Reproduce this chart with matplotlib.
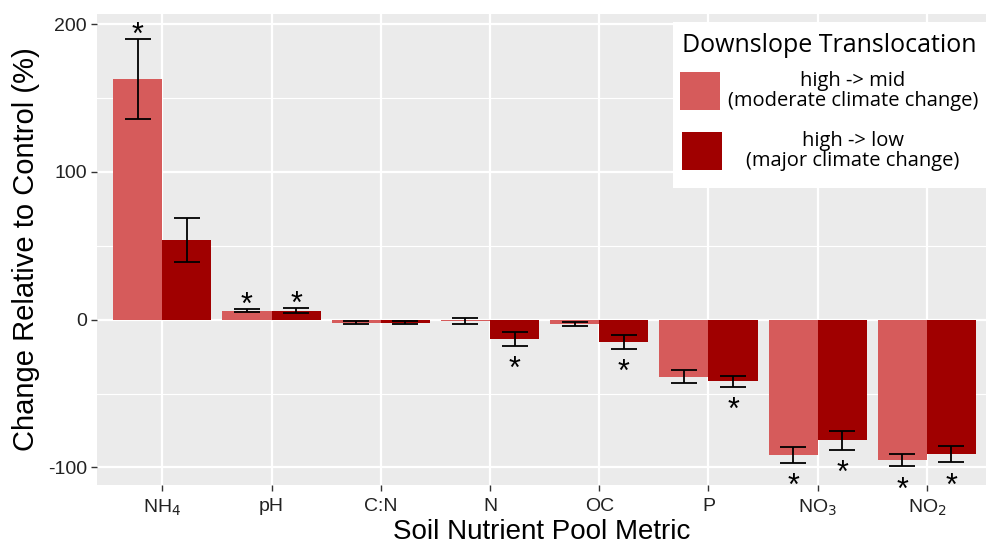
import matplotlib.pyplot as plt
from matplotlib.patches import Rectangle
import numpy as np

# dados
categorias = ['NH$_4$', 'pH', 'C:N', 'N', 'OC', 'P', 'NO$_3$', 'NO$_2$']
media_mid = [163, 6, -2, -1, -3, -38.5, -91.5, -95]
erro_mid = [27, 1, 1, 2, 1.5, 4.3, 5.2, 4]
media_low = [54, 6, -2, -13, -15, -41.5, -81.5, -91]
erro_low = [15, 1.7, 1, 4.5, 4.5, 3.7, 6.5, 5.5]
sig_mid = [True, True, False, False, False, False, True, True]
sig_low = [False, True, False, True, True, True, True, True]

cor_mid = '#D65B5B'
cor_low = '#A00000'

plt.rcParams['font.family'] = ['Liberation Sans', 'DejaVu Sans']
plt.rcParams['axes.unicode_minus'] = False

fig = plt.figure(figsize=(9.87, 5.45), dpi=100)
ax = fig.add_axes([0.098, 0.110, 0.902, 0.864])
ax.set_facecolor('#EBEBEB')

x = np.arange(1, len(categorias) + 1)
w = 0.45
ax.bar(x - w / 2, media_mid, width=w, color=cor_mid, zorder=2)
ax.bar(x + w / 2, media_low, width=w, color=cor_low, zorder=2)
ax.errorbar(x - w / 2, media_mid, yerr=erro_mid, fmt='none', ecolor='black',
            elinewidth=1.3, capsize=9.5, capthick=1.3, zorder=3)
ax.errorbar(x + w / 2, media_low, yerr=erro_low, fmt='none', ecolor='black',
            elinewidth=1.3, capsize=9.5, capthick=1.3, zorder=3)

# asteriscos de significancia
for xs, m, e, s in [(x - w / 2, media_mid, erro_mid, sig_mid),
                    (x + w / 2, media_low, erro_low, sig_low)]:
    for xi, mi, ei, si in zip(xs, m, e, s):
        if not si:
            continue
        if mi > 0:
            ax.annotate('*', (xi, mi + ei), xytext=(0, -3.5), textcoords='offset points',
                        ha='center', va='baseline', fontsize=22, zorder=4)
        else:
            ax.annotate('*', (xi, mi - ei), xytext=(0, -23.5), textcoords='offset points',
                        ha='center', va='baseline', fontsize=22, zorder=4)

ax.set_xlim(0.4, 8.55)
ax.set_ylim(-111.9, 206.8)
ax.set_xticks(x)
ax.set_xticklabels(categorias)
ax.set_yticks([-100, 0, 100, 200])
ax.set_yticks([-50, 50, 150], minor=True)
ax.grid(True, which='major', color='white', linewidth=1.6, zorder=0)
ax.grid(True, which='minor', axis='y', color='white', linewidth=0.8, zorder=0)
ax.set_axisbelow(True)
for sp in ax.spines.values():
    sp.set_visible(False)
ax.tick_params(which='major', length=4, width=1, color='#333333', labelsize=14,
               labelcolor='#222222', pad=3)
ax.tick_params(axis='x', pad=5)
ax.tick_params(which='minor', length=0)

ax.set_xlabel('Soil Nutrient Pool Metric', fontsize=20, labelpad=1)
ax.set_ylabel('Change Relative to Control (%)', fontsize=21, labelpad=6)

# legenda manual
fig.patches.append(Rectangle((673 / 987, 1 - 188 / 545), 314 / 987, 166 / 545,
                             transform=fig.transFigure, facecolor='white',
                             edgecolor='none', zorder=5))
fig.text(829 / 987, 1 - 45 / 545, 'Downslope Translocation', ha='center', va='center',
         fontsize=18, family=['Open Sans', 'DejaVu Sans'], zorder=6)
fig.patches.append(Rectangle((680 / 987, 1 - 110 / 545), 40 / 987, 38 / 545,
                             transform=fig.transFigure, facecolor=cor_mid,
                             edgecolor='none', zorder=6))
fig.patches.append(Rectangle((682 / 987, 1 - 170 / 545), 40 / 987, 38 / 545,
                             transform=fig.transFigure, facecolor=cor_low,
                             edgecolor='none', zorder=6))
fig.text(853 / 987, 1 - 91 / 545, 'high -> mid\n(moderate climate change)', ha='center',
         va='center', fontsize=14.5, linespacing=1.05,
         family=['Open Sans', 'DejaVu Sans'], zorder=6)
fig.text(853 / 987, 1 - 151 / 545, 'high -> low\n(major climate change)', ha='center',
         va='center', fontsize=14.5, linespacing=1.05,
         family=['Open Sans', 'DejaVu Sans'], zorder=6)

fig.savefig('out.png', dpi=100)
